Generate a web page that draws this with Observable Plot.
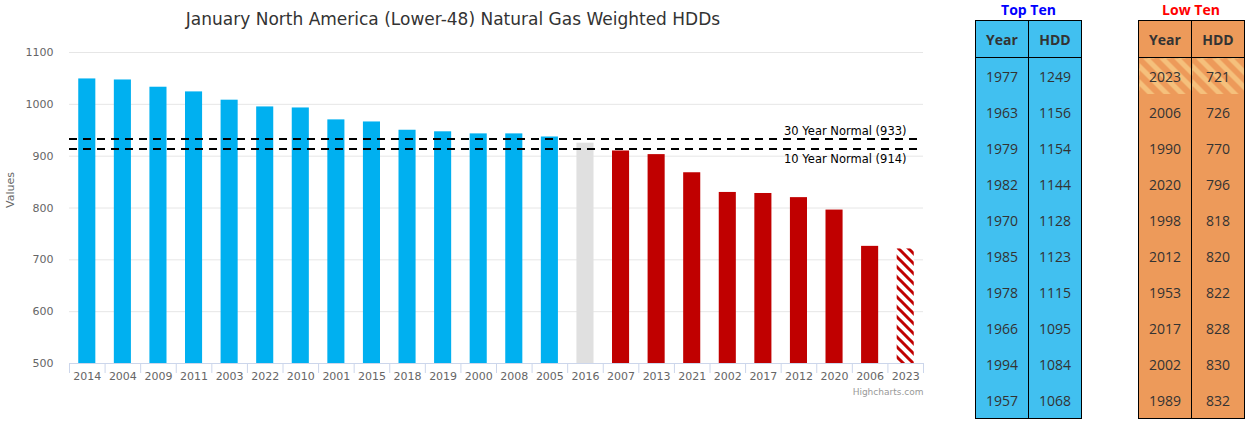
<!DOCTYPE html>
<html>
<head>
<meta charset="utf-8">
<script src="https://cdn.jsdelivr.net/npm/d3@7"></script>
<script src="https://cdn.jsdelivr.net/npm/@observablehq/plot@0.6"></script>
<style>
  html, body { margin: 0; padding: 0; background: #fff; }
  #wrap { position: relative; width: 1257px; height: 428px; overflow: hidden; }
  #title { position: absolute; left: 0; top: 0; width: 906px; height: 38px; line-height: 38px;
           text-align: center; font-family: "DejaVu Sans", sans-serif; font-size: 17px; color: #333; }
  #chart { position: absolute; left: 0; top: 30px; }
  .tbl-title { position: absolute; top: 0; height: 20px; line-height: 20px; text-align: center;
               font-family: "Open Sans", sans-serif; font-weight: bold; font-size: 14px; }
  table.hdd { position: absolute; top: 20px; border-collapse: collapse;
              font-family: "Open Sans", sans-serif; font-size: 14px; color: #333; }
  table.hdd th, table.hdd td { border-left: 1px solid #000; border-right: 1px solid #000;
              text-align: center; padding: 0; }
  table.hdd th { height: 36px; font-weight: bold; border-top: 1px solid #000; border-bottom: 1px solid #000; }
  table.hdd td { height: 36px; }
  table.hdd tr:last-child td { border-bottom: 1px solid #000; }
  #top { left: 975px; background: #41c0f0; }
  #low { left: 1138px; background: #ed9a5a; }
  #low tr.current td { background: repeating-linear-gradient(45deg, #ed9a5a 0px, #ed9a5a 6px, #f5c07c 6px, #f5c07c 11px); }
</style>
</head>
<body>
<div id="wrap">
  <div id="title">January North America (Lower-48) Natural Gas Weighted HDDs</div>
  <div id="chart"></div>
  <div class="tbl-title" style="left:975px;width:107px;color:#0000ff;">Top Ten</div>
  <table class="hdd" id="top"></table>
  <div class="tbl-title" style="left:1138px;width:106px;color:#ff0000;">Low Ten</div>
  <table class="hdd" id="low"></table>
</div>
<script>
// ---- data ----
const years = ["2014","2004","2009","2011","2003","2022","2010","2001","2015","2018","2019","2000",
               "2008","2005","2016","2007","2013","2021","2002","2017","2012","2020","2006","2023"];
const hdd = [1049,1047,1033,1024,1008,995,993,970,966,950,947,943,
             943,937,925,910,903,868,830,828,820,796,726,721];
const currentYear = "2023";
const normal30 = 933;
const normal10 = 914;
const yTicks = [500,600,700,800,900,1000,1100];

const topYears = ["1977","1963","1979","1982","1970","1985","1978","1966","1994","1957"];
const topHdd = [1249,1156,1154,1144,1128,1123,1115,1095,1084,1068];
const lowYears = ["2023","2006","1990","2020","1998","2012","1953","2017","2002","1989"];
const lowHdd = [721,726,770,796,818,820,822,828,830,832];

// ---- chart ----
const W = 930, H = 380, ML = 69, MR = 7, MT = 22, MB = 47;
const step = (W - ML - MR) / years.length;
const data = years.map((y, i) => ({year: y, hdd: hdd[i]}));
const colorOf = d => d.hdd >= normal30 ? "#00b0f0" : d.hdd >= normal10 ? "#e0e0e0" : "#c00000";

const chart = Plot.plot({
  width: W, height: H,
  marginLeft: ML, marginRight: MR, marginTop: MT, marginBottom: MB,
  style: {fontFamily: "DejaVu Sans, sans-serif", fontSize: "11px", background: "#fff", overflow: "visible"},
  x: {type: "band", domain: years, paddingInner: 0.52, paddingOuter: 0.26, round: false},
  y: {domain: [500, 1100]},
  marks: [
    Plot.gridY(yTicks, {stroke: "#e6e6e6", strokeOpacity: 1}),
    Plot.barY(data.filter(d => d.year !== currentYear), {x: "year", y1: 500, y2: "hdd", fill: colorOf}),
    Plot.barY(data.filter(d => d.year === currentYear), {x: "year", y1: 500, y2: "hdd", fill: "url(#hatch)"}),
    Plot.ruleY([500], {stroke: "#ccd6eb", strokeWidth: 1}),
    Plot.ruleX(years, {x: d => d, dx: -step / 2, y1: 500, y2: 500, insetBottom: -10, stroke: "#ccd6eb"}),
    Plot.ruleX(years.slice(-1), {x: d => d, dx: step / 2, y1: 500, y2: 500, insetBottom: -10, stroke: "#ccd6eb"}),
    Plot.ruleY([normal30, normal10], {stroke: "#000", strokeWidth: 2, strokeDasharray: "8,6"}),
    Plot.text([normal30], {y: d => d, frameAnchor: "right", textAnchor: "end", dx: -17, dy: -8,
      lineAnchor: "middle", text: d => `30 Year Normal (${d})`, fill: "#000", fontSize: 11.5}),
    Plot.text([normal10], {y: d => d, frameAnchor: "right", textAnchor: "end", dx: -17, dy: 10,
      lineAnchor: "middle", text: d => `10 Year Normal (${d})`, fill: "#000", fontSize: 11.5}),
    Plot.axisX({tickSize: 0, tickPadding: 9, fill: "#666", fontSize: 11, label: null}),
    Plot.axisY({ticks: yTicks, tickFormat: d => String(d), tickSize: 0, tickPadding: 16, fill: "#666", fontSize: 11, label: null}),
    Plot.text(["Values"], {frameAnchor: "left", rotate: -90, dx: -59, fill: "#666", fontSize: 11}),
    Plot.text(["Highcharts.com"], {frameAnchor: "bottom-right", textAnchor: "end", lineAnchor: "middle",
      dy: 29, fill: "#999", fontSize: 9})
  ]
});

const defs = d3.select(chart).insert("defs", ":first-child");
const pat = defs.append("pattern").attr("id", "hatch").attr("patternUnits", "userSpaceOnUse")
  .attr("width", 10).attr("height", 10);
pat.append("rect").attr("width", 10).attr("height", 10).attr("fill", "#fff");
pat.append("path").attr("d", "M-5,5 L5,15 M0,0 L10,10 M5,-5 L15,5")
  .attr("stroke", "#c00000").attr("stroke-width", 3);

document.getElementById("chart").appendChild(chart);

// ---- tables ----
function fillTable(id, ys, vs, current) {
  const t = d3.select("#" + id);
  const head = t.append("tr");
  head.append("th").style("width", "52px").text("Year");
  head.append("th").style("width", "52px").text("HDD");
  ys.forEach((y, i) => {
    const tr = t.append("tr").classed("current", y === current);
    tr.append("td").text(y);
    tr.append("td").text(vs[i]);
  });
}
fillTable("top", topYears, topHdd, null);
fillTable("low", lowYears, lowHdd, currentYear);
</script>
</body>
</html>
